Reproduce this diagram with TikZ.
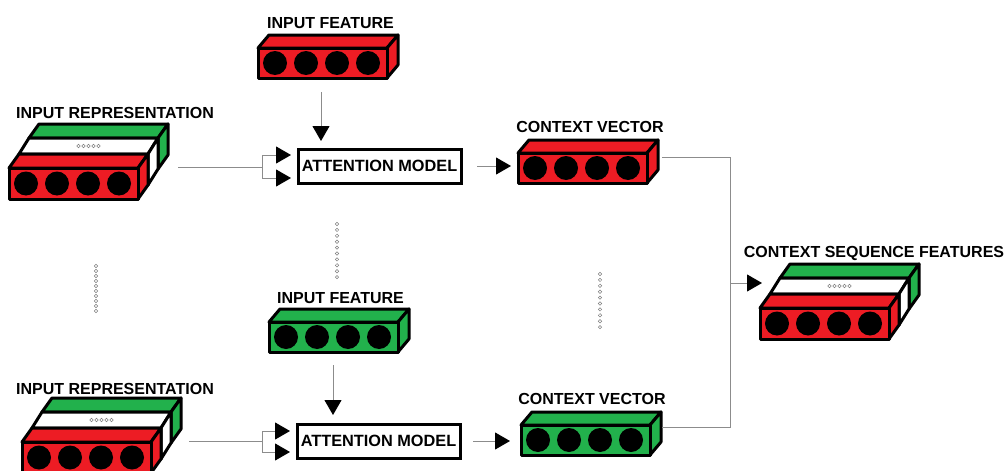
\documentclass[tikz,border=0pt]{standalone}
\usepackage{fontspec}
\setmainfont{Liberation Sans}
\usetikzlibrary{arrows.meta}
\definecolor{pred}{HTML}{ED1C24}
\definecolor{pgreen}{HTML}{22B14C}
\definecolor{lgray}{HTML}{8C8C8C}
\tikzset{
  face/.style={draw=black, line width=3pt, line join=round},
  lbl/.style={anchor=base, font=\fontsize{16}{19}\selectfont\bfseries, inner sep=0pt},
  attbox/.style={draw=black, line width=3pt, fill=white, minimum width=163pt,
     minimum height=34pt, inner sep=0pt, font=\fontsize{16.3}{19}\selectfont\bfseries,
     text height=11.5pt, text depth=0pt},
  conn/.style={draw=lgray, line width=1pt, -{Triangle[length=15pt,width=17pt,color=black]}},
  wire/.style={draw=lgray, line width=1pt},
  dotc/.style={draw=gray, line width=0.5pt}
}
\newcommand\featbox[3]{%
  \begin{scope}[shift={(#1,#2)}]
    \filldraw[face,fill=#3] (0,0) -- (11,-13) -- (140,-13) -- (129,0) -- cycle;
    \filldraw[face,fill=#3] (129,0) -- (140,-13) -- (140,17) -- (129,30) -- cycle;
    \filldraw[face,fill=#3] (0,0) rectangle (129,30);
    \foreach \i in {0,...,3} \fill (17+31*\i,15) circle[radius=12pt];
  \end{scope}}
\newcommand\stackbox[2]{%
  \begin{scope}[shift={(#1,#2)}]
    \filldraw[face,fill=pgreen] (20,-30) -- (30,-44) -- (159,-44) -- (149,-30) -- cycle;
    \filldraw[face,fill=white] (10,-14) -- (20,-30) -- (149,-30) -- (139,-14) -- cycle;
    \filldraw[face,fill=pred] (0,0) -- (10,-14) -- (139,-14) -- (129,0) -- cycle;
    \filldraw[face,fill=pgreen] (149,-30) -- (159,-44) -- (159,-13) -- (149,1) -- cycle;
    \filldraw[face,fill=white] (139,-14) -- (149,-30) -- (149,1) -- (139,17) -- cycle;
    \filldraw[face,fill=pred] (129,0) -- (139,-14) -- (139,17) -- (129,31) -- cycle;
    \filldraw[face,fill=pred] (0,0) rectangle (129,31);
    \foreach \i in {0,...,3} \fill (17+31*\i,15.5) circle[radius=12pt];
    \foreach \i in {-2,...,2} \draw[dotc] (79.5+5*\i,-22) circle[radius=1.7pt];
  \end{scope}}
\begin{document}
\begin{tikzpicture}[x=1pt,y=-1pt]
\useasboundingbox (0,0) rectangle (1005,471);
\clip (0,0) rectangle (1005,471);
\fill[white] (0,0) rectangle (1005,471);

% labels
\node[lbl] (lif1) at (330.5,28) {INPUT FEATURE};
\node[lbl] (lir1) at (115,118) {INPUT REPRESENTATION};
\node[lbl] (lcv1) at (590,132) {CONTEXT VECTOR};
\node[lbl] (lcsf) at (874,257) {CONTEXT SEQUENCE FEATURES};
\node[lbl] (lif2) at (340.5,303) {INPUT FEATURE};
\node[lbl] (lir2) at (115,394) {INPUT REPRESENTATION};
\node[lbl] (lcv2) at (592,404) {CONTEXT VECTOR};

% boxes
\featbox{258}{48}{pred}
\featbox{518}{153}{pred}
\featbox{269}{322}{pgreen}
\featbox{521}{425}{pgreen}
\stackbox{9}{168}
\stackbox{22}{442}
\stackbox{760}{308}

% attention models
\node[attbox] (att1) at (379.5,166) {ATTENTION MODEL};
\node[attbox] (att2) at (378.5,441) {ATTENTION MODEL};

% connector ports
\coordinate (rep1) at (178,167);
\coordinate (sp1) at (262,167);
\coordinate (in1a) at (291,155);
\coordinate (in1b) at (291,178);
\coordinate (f1) at (321,92);
\coordinate (f1t) at (321,141);
\coordinate (o1) at (477,166);
\coordinate (cv1in) at (511,166);

\coordinate (rep2) at (189,441);
\coordinate (sp2) at (262,441);
\coordinate (in2a) at (290,431);
\coordinate (in2b) at (290,452);
\coordinate (f2) at (333,365);
\coordinate (f2t) at (333,415);
\coordinate (o2) at (473,441);
\coordinate (cv2in) at (510,441);

\coordinate (cv1out) at (662,157);
\coordinate (j1) at (730,157);
\coordinate (cv2out) at (662,427);
\coordinate (j2) at (730,427);
\coordinate (jm) at (730,283);
\coordinate (csfin) at (762,283);

% connectors
\draw[wire] (rep1) -- (sp1);
\draw[conn] (sp1) |- (in1a);
\draw[conn] (sp1) |- (in1b);
\draw[conn] (f1) -- (f1t);
\draw[conn] (o1) -- (cv1in);

\draw[wire] (rep2) -- (sp2);
\draw[conn] (sp2) |- (in2a);
\draw[conn] (sp2) |- (in2b);
\draw[conn] (f2) -- (f2t);
\draw[conn] (o2) -- (cv2in);

\draw[wire] (cv1out) -- (j1) -- (j2) -- (cv2out);
\draw[conn] (jm) -- (csfin);

% ellipsis columns
\foreach \k in {0,...,9} \draw[dotc] (96,266+5*\k) circle[radius=1.7pt];
\foreach \k in {0,...,9} \draw[dotc] (337,224+5.9*\k) circle[radius=1.7pt];
\foreach \k in {0,...,9} \draw[dotc] (600,274+5.9*\k) circle[radius=1.7pt];
\end{tikzpicture}
\end{document}
